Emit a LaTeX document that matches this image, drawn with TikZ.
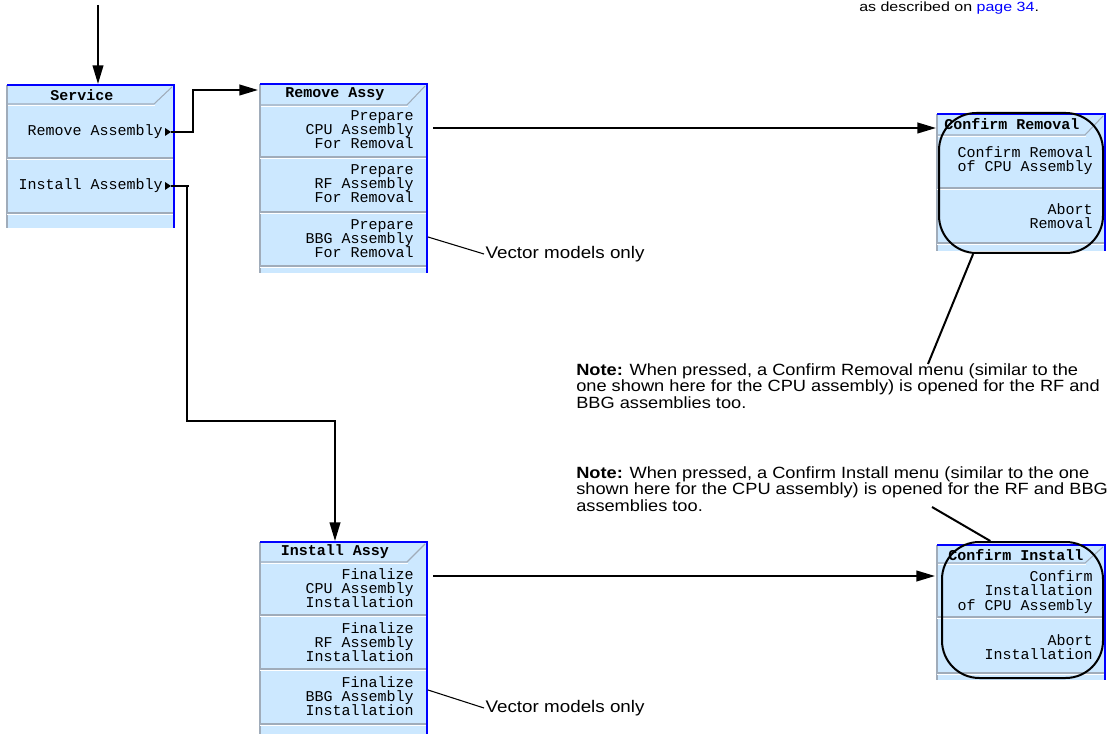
\documentclass[tikz,border=0pt]{standalone}
\usepackage{fontspec}
\setmainfont{Liberation Sans}
\newfontfamily\menufont{Liberation Mono}
\newfontfamily\notefont[FakeStretch=1.12]{Liberation Sans}
\newfontfamily\reffont[FakeStretch=1.2]{Liberation Sans}
\usepackage{tikz}
\usetikzlibrary{arrows.meta}

\definecolor{menublue}{RGB}{204,232,255}
\definecolor{edgeblue}{RGB}{0,0,255}
\definecolor{sepgray}{RGB}{160,172,186}
\definecolor{linkblue}{RGB}{0,0,255}

\tikzset{
  panel/.style={fill=menublue},
  paneledge/.style={draw=edgeblue, line width=1.6pt},
  sepline/.style={draw=sepgray, line width=0.8pt},
  mtitle/.style={inner sep=0pt, font=\menufont\bfseries\fontsize{11.25}{10.6}\selectfont},
  mitem/.style={inner sep=0pt, anchor=east, align=right, font=\menufont\fontsize{11.25}{10.6}\selectfont},
  callout/.style={draw, line width=1.5pt, rounded corners=28pt, inner sep=0pt},
  conn/.style={line width=1.5pt},
  arrow/.style={conn, -{Triangle[length=14pt, width=8pt]}},
  pointer/.style={line width=0.8pt},
  note/.style={inner sep=0pt, anchor=north west, align=left, font=\notefont\fontsize{12.2}{12.4}\selectfont},
  hint/.style={inner sep=1pt, anchor=west, font=\notefont\fontsize{12.6}{14}\selectfont}
}

\begin{document}
\begin{tikzpicture}[x=0.75pt, y=-0.75pt]
  \useasboundingbox (0,0) rectangle (1115,734);

  % menu panels: left/right/top/title/bottom
  \foreach \l/\r/\t/\h/\b in {7/174/85/104/228, 260/427/84/105/273, 937/1105/114/135/251,
                              260/427/542/562/734, 937/1105/545/563/680} {
    \fill[panel] (\l,\t) rectangle (\r,\b);
    \draw[sepline] (\l,\t) -- (\l,\b);
    \draw[sepline] (\l,\h) -- (\r-20,\h) -- (\r-2,\t+2);
    \draw[white, line width=0.8pt] (\l+1,\h+1.5) -- (\r-19,\h+1.5);
  }
  \foreach \l/\r/\y in {7/174/158, 7/174/213, 260/427/157, 260/427/212, 260/427/266,
                        937/1105/188, 937/1105/243, 260/427/615, 260/427/669, 260/427/724,
                        937/1105/617, 937/1105/673} {
    \draw[sepline] (\l,\y) -- (\r,\y);
    \draw[white, line width=0.8pt] (\l,\y+1.5) -- (\r,\y+1.5);
  }
  \foreach \l/\r/\t/\b in {7/174/85/228, 260/427/84/273, 937/1105/114/251,
                           260/427/542/734, 937/1105/545/680}
    \draw[paneledge] (\l,\t) -- (\r,\t) -- (\r,\b);

  % Service
  \node[mtitle] (svc) at (82,95) {Service};
  \node[mitem] (rem) at (163,132) {Remove Assembly};
  \node[mitem] (ins) at (163,186) {Install Assembly};
  \fill (165,128) -- (171,132) -- (165,136) -- cycle;
  \fill (165,182) -- (171,186) -- (165,190) -- cycle;

  % Remove Assy
  \node[mtitle] (rassy) at (335,94) {Remove Assy};
  \node[mitem] (rcpu) at (414,130) {Prepare\\CPU Assembly\\For Removal};
  \node[mitem] (rrf) at (414,184) {Prepare\\RF Assembly\\For Removal};
  \node[mitem] (rbbg) at (414,239) {Prepare\\BBG Assembly\\For Removal};

  % Confirm Removal
  \node[mtitle] (crem) at (1012,124) {Confirm Removal};
  \node[mitem] (cremyes) at (1093,161) {Confirm Removal\\of CPU Assembly};
  \node[mitem] (cremno) at (1093,216) {Abort\\Removal};
  \node[callout, minimum width=123pt, minimum height=105pt] (crbox) at (1021,183) {};

  % Install Assy
  \node[mtitle] (iassy) at (335,552) {Install Assy};
  \node[mitem] (icpu) at (414,588) {Finalize\\CPU Assembly\\Installation};
  \node[mitem] (irf) at (414,642) {Finalize\\RF Assembly\\Installation};
  \node[mitem] (ibbg) at (414,696) {Finalize\\BBG Assembly\\Installation};

  % Confirm Install
  \node[mtitle] (cins) at (1016,555) {Confirm Install};
  \node[mitem] (cinsyes) at (1093,592) {Confirm\\Installation\\of CPU Assembly};
  \node[mitem] (cinsno) at (1093,647) {Abort\\Installation};
  \node[callout, minimum width=120.75pt, minimum height=102pt] (cibox) at (1022.5,610) {};

  % notes
  \node[anchor=base west, inner sep=0pt, font=\reffont\fontsize{10}{10}\selectfont] (ref) at (859,11.5)
    {as described on {\color{linkblue}page 34}.};
  \node[note] (note1) at (576,363) {\textbf{Note:} When pressed, a Confirm Removal menu (similar to the\\
    one shown here for the CPU assembly) is opened for the RF and\\BBG assemblies too.};
  \node[note] (note2) at (576,466) {\textbf{Note:} When pressed, a Confirm Install menu (similar to the one\\
    shown here for the CPU assembly) is opened for the RF and BBG\\assemblies too.};
  \node[hint] (vec1) at (484,254) {Vector models only};
  \node[hint] (vec2) at (484,708) {Vector models only};

  % connectors
  \coordinate (start) at (98,5);
  \coordinate (svctop) at (98,84);
  \coordinate (remout) at (171,132);
  \coordinate (insout) at (171,186);
  \coordinate (rassyin) at (258,90);
  \coordinate (iassyin) at (335,541);
  \coordinate (rcpuout) at (433,128);
  \coordinate (cremin) at (936,128);
  \coordinate (icpuout) at (433,576);
  \coordinate (cinsin) at (935,576);
  \coordinate (n1tip) at (928,364);
  \coordinate (n2tip) at (932,507);

  \draw[arrow] (start) -- (svctop);
  \draw[arrow] (remout) -- ++(22,0) |- (rassyin);
  \draw[conn] (insout) -- ++(18,0);
  \draw[arrow] (insout) ++(16,0) -- ++(0,235) -| (iassyin);
  \draw[arrow] (rcpuout) -- (cremin);
  \draw[arrow] (icpuout) -- (cinsin);
  \draw[pointer] (428,237) -- (vec1.west);
  \draw[pointer] (428,690) -- (vec2.west);
  \draw[conn] (n1tip) -- (crbox.236);
  \draw[conn] (n2tip) -- (cibox.115.5);
\end{tikzpicture}
\end{document}
